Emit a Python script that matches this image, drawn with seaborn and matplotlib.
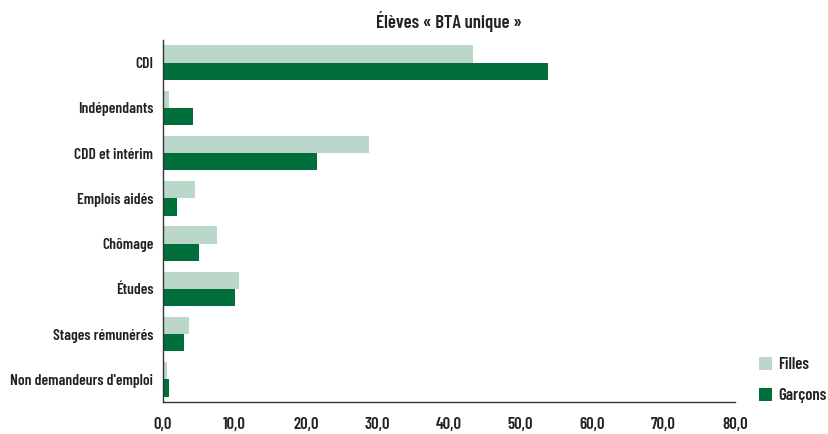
import matplotlib
matplotlib.use("Agg")
import matplotlib.pyplot as plt
import matplotlib.ticker as mticker
import numpy as np
import pandas as pd
import seaborn as sns

# categories and values (%)
categories = ["CDI", "Indépendants", "CDD et intérim", "Emplois aidés", "Chômage",
              "Études", "Stages rémunérés", "Non demandeurs d'emploi"]
filles = [43.3, 0.8, 28.8, 4.5, 7.5, 10.7, 3.7, 0.6]
garcons = [53.8, 4.2, 21.6, 1.9, 5.0, 10.1, 2.9, 0.9]
series = ["Filles", "Garçons"]
colors = ["#BAD7CA", "#006F3C"]

df = pd.DataFrame({
    "cat": categories * 2,
    "val": filles + garcons,
    "sexe": [series[0]] * len(categories) + [series[1]] * len(categories),
})

sns.set_style("white")
plt.rcParams["font.family"] = ["Barlow Condensed", "DejaVu Sans"]
plt.rcParams["font.weight"] = 600

fig = plt.figure(figsize=(8.29, 4.34), dpi=100)
ax = fig.add_axes([0.1966, 0.0737, 0.69, 0.834])

sns.barplot(data=df, y="cat", x="val", hue="sexe", orient="h",
            palette=colors, width=0.76, saturation=1, linewidth=0,
            ax=ax, legend=True)

ax.set_xlim(0, 80)
ax.set_ylim(len(categories) - 0.5, -0.5)
ax.xaxis.set_major_locator(mticker.MultipleLocator(10))
ax.xaxis.set_major_formatter(mticker.FuncFormatter(lambda v, p: f"{v:.1f}".replace(".", ",")))
ax.set_xlabel("")
ax.set_ylabel("")

for s in ["top", "right"]:
    ax.spines[s].set_visible(False)
for s in ["left", "bottom"]:
    ax.spines[s].set_color("#333333")
    ax.spines[s].set_linewidth(1.0)

# ticks between categories on y, labels centered
ax.set_yticks(np.arange(len(categories) + 1) - 0.5, minor=True)
ax.tick_params(axis="y", which="major", length=0, labelsize=11.2, pad=7)
ax.tick_params(axis="y", which="minor", length=7, direction="out", color="#333333")
ax.tick_params(axis="x", which="major", length=8, direction="inout", color="#333333",
               labelsize=12, pad=7)
for lab in ax.get_yticklabels() + ax.get_xticklabels():
    lab.set_fontweight(600)
    lab.set_color("#222222")

ax.set_title("Élèves « BTA unique »", fontsize=13.5, fontweight=600, color="#222222", pad=9)

leg = ax.legend(loc="lower left", bbox_to_anchor=(1.015, -0.045), frameon=False,
                fontsize=12, handlelength=0.8, handleheight=0.8, labelspacing=0.95,
                handletextpad=0.4)
for t in leg.get_texts():
    t.set_fontweight(600)
    t.set_color("#222222")

fig.savefig("out.png", dpi=100)
